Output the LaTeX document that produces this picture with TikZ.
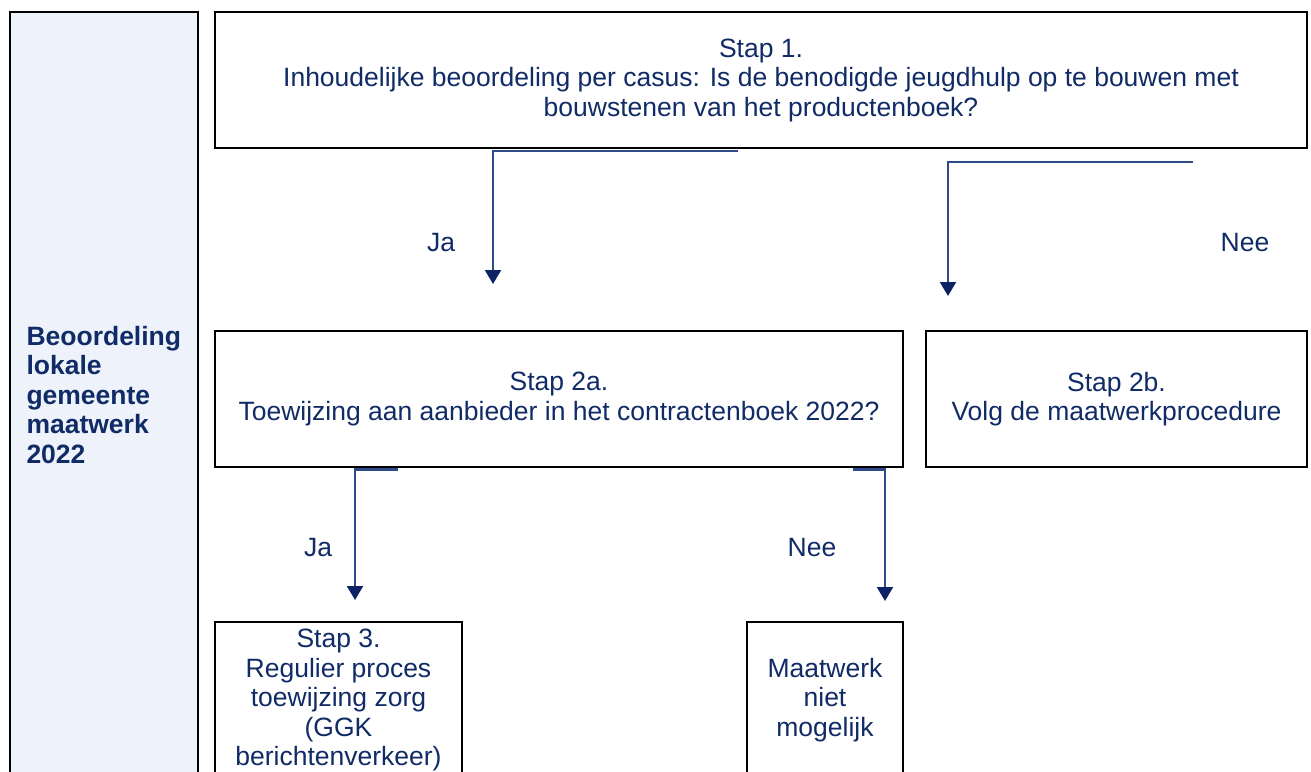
\documentclass[tikz,border=0pt]{standalone}
\usepackage{fontspec}
\setmainfont{Liberation Sans}
\usepackage{xcolor}
\usepackage{tikz}
\usetikzlibrary{arrows.meta}

\definecolor{navy}{HTML}{102B66}
\definecolor{linkblue}{HTML}{2E4C8A}
\definecolor{tipblue}{HTML}{0D2366}
\definecolor{panelblue}{HTML}{EEF3FB}

\tikzset{
	box/.style={draw=black, line width=1.3pt, fill=white, text=navy, align=center, inner sep=0pt,
		font=\fontsize{13.25}{14.75}\selectfont},
	flow/.style={draw=linkblue, line width=1.1pt, -{Triangle[width=8pt,length=7pt,color=tipblue]}},
	lbl/.style={text=navy, font=\fontsize{13.25}{14.75}\selectfont}
}

\begin{document}
\begin{tikzpicture}[x=0.5pt, y=-0.5pt]
			\useasboundingbox (0,0) rectangle (1311,771);
			\node[box, fill=panelblue, align=left, minimum width=94pt, minimum height=383pt, text width=77.5pt, inner xsep=8.25pt, font=\fontsize{13.25}{14.75}\selectfont\bfseries] at (104,395) (side){Beoordeling\\lokale\\gemeente\\maatwerk\\2022};
			\node[box, minimum width=546pt, minimum height=68pt] at (761,80) (s1){Stap 1.\\Inhoudelijke beoordeling per casus: Is de benodigde jeugdhulp op te bouwen met\\bouwstenen van het productenboek?};
			\node[box, minimum width=344pt, minimum height=68pt] at (559,399) (s2a){Stap 2a.\\Toewijzing aan aanbieder in het contractenboek 2022?};
			\node[box, minimum width=190.5pt, minimum height=68pt] at (1116.5,399) (s2b){Stap 2b.\\Volg de maatwerkprocedure};
			\node[box, minimum width=123.5pt, minimum height=78pt] at (338.5,700) (s3){Stap 3.\\Regulier proces\\toewijzing zorg\\(GGK\\berichtenverkeer)};
			\node[box, minimum width=78pt, minimum height=78pt] at (825,700) (nope){Maatwerk\\niet\\mogelijk};
			\coordinate (ja1) at (738,151);
			\coordinate (ja1end) at (493,284);
			\coordinate (nee1) at (1193,162);
			\coordinate (nee1end) at (948,296);
			\coordinate (ja2) at (398,469.5);
			\coordinate (ja2end) at (355,600);
			\coordinate (nee2) at (853,469.5);
			\coordinate (nee2end) at (885,601);
			\draw[flow] (ja1) -| (ja1end);
			\draw[flow] (nee1) -| (nee1end);
			\draw[flow] (ja2) -| (ja2end);
			\draw[flow] (nee2) -| (nee2end);
			\node[lbl] at (441,243) (lja1){Ja};
			\node[lbl] at (1245,243) (lnee1){Nee};
			\node[lbl] at (318,548) (lja2){Ja};
			\node[lbl] at (812,548) (lnee2){Nee};
		\end{tikzpicture}
\end{document}
